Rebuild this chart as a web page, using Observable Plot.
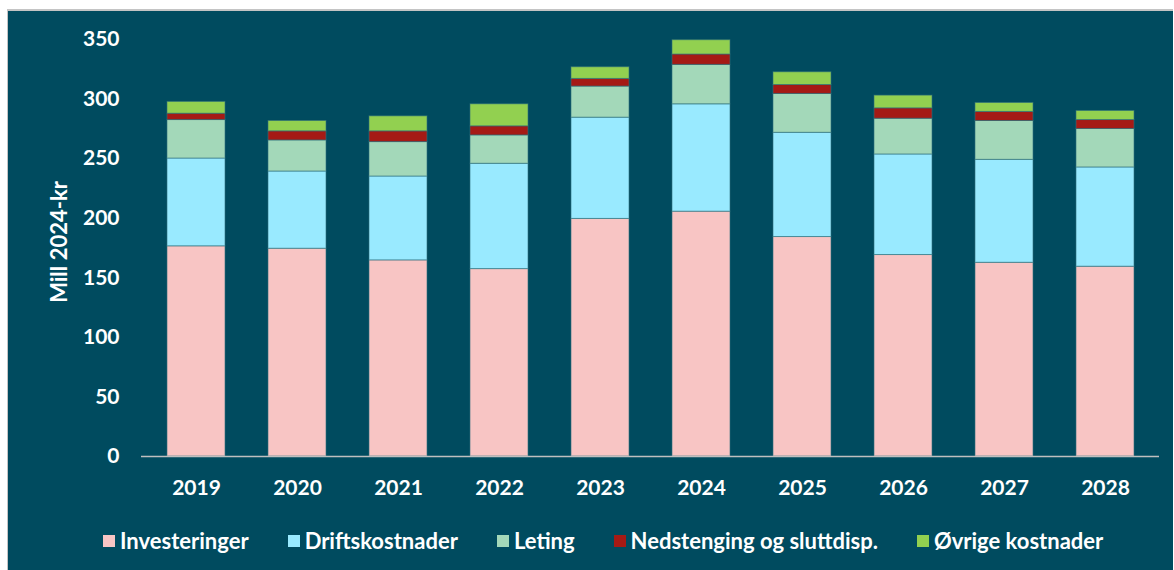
<!DOCTYPE html>
<html>
<head>
<meta charset="utf-8">
<script src="https://cdn.jsdelivr.net/npm/d3@7"></script>
<script src="https://cdn.jsdelivr.net/npm/@observablehq/plot@0.6"></script>
<style>
  html, body { margin: 0; padding: 0; background: #ffffff; width: 1174px; height: 570px; overflow: hidden; }
  #panel { position: absolute; left: 7px; top: 9px; width: 1166px; height: 561px; background: #004b5f;
           border-top: 2px solid #c4c4c4; border-left: 1px solid #c4c4c4; box-sizing: border-box; }
  #chart { position: absolute; left: 0; top: 0; }
  #legend { position: absolute; left: 95px; top: 516px; display: flex; align-items: center; gap: 39px;
            font-family: Lato, "Open Sans", sans-serif; font-weight: bold; font-size: 22px; color: #ffffff; white-space: nowrap; }
  .item { display: flex; align-items: center; }
  .sw { width: 12px; height: 12px; margin-right: 5px; display: inline-block; }
</style>
</head>
<body>
<div id="panel"><div id="chart"></div><div id="legend"></div></div>
<script>
const years = ["2019","2020","2021","2022","2023","2024","2025","2026","2027","2028"];
const seriesNames = ["Investeringer","Driftskostnader","Leting","Nedstenging og sluttdisp.","Øvrige kostnader"];
const investeringer   = [176.4,174.4,164.6,157.3,199.4,205.5,184.2,169.1,162.6,159.3];
const driftskostnader = [73.7,64.8,70.4,88.4,85.0,90.1,87.5,84.4,86.4,83.3];
const leting          = [32.3,26.1,28.9,23.8,26.1,33.1,32.6,30.0,32.6,32.3];
const nedstenging     = [5.3,7.6,9.0,7.6,6.4,8.7,7.5,8.7,7.6,7.5];
const ovrige          = [9.9,8.7,12.6,18.5,9.8,12.0,10.7,10.7,7.5,7.6];
const yTicks = [0,50,100,150,200,250,300,350];
const colors = ["#f8c5c4","#99eaff","#a3d8b9","#a51a15","#92d050"];
const yLabel = "Mill 2024-kr";

const seriesValues = [investeringer, driftskostnader, leting, nedstenging, ovrige];
const data = [];
seriesNames.forEach((s, i) => years.forEach((yr, j) => data.push({year: yr, series: s, value: seriesValues[i][j]})));

const chart = Plot.plot({
  width: 1165,
  height: 502,
  marginLeft: 133,
  marginRight: 14,
  marginTop: 28,
  marginBottom: 57,
  style: {background: "transparent", color: "#ffffff", fontFamily: "Lato, 'Open Sans', sans-serif", fontWeight: "bold", fontSize: "21px"},
  x: {domain: years, paddingInner: 0.43, paddingOuter: 0.215, label: null, tickSize: 0, tickPadding: 24},
  y: {domain: [0, 350], ticks: yTicks, label: null, tickSize: 0, tickPadding: 22},
  color: {domain: seriesNames, range: colors},
  marks: [
    Plot.barY(data, Plot.stackY({x: "year", y: "value", fill: "series", order: seriesNames,
      stroke: "#2f6f7c", strokeWidth: 1, strokeOpacity: 0.6})),
    Plot.ruleY([0], {stroke: "#bfbfbf", strokeWidth: 1.5}),
    Plot.text([yLabel], {frameAnchor: "left", textAnchor: "middle", text: d => d, rotate: -90, dx: -82, dy: -6,
      fill: "#ffffff", fontSize: 22, fontWeight: "bold"})
  ]
});
document.getElementById("chart").appendChild(chart);

const legend = document.getElementById("legend");
seriesNames.forEach((s, i) => {
  const item = document.createElement("div");
  item.className = "item";
  const sw = document.createElement("span");
  sw.className = "sw";
  sw.style.background = colors[i];
  item.appendChild(sw);
  item.appendChild(document.createTextNode(s));
  legend.appendChild(item);
});
</script>
</body>
</html>
